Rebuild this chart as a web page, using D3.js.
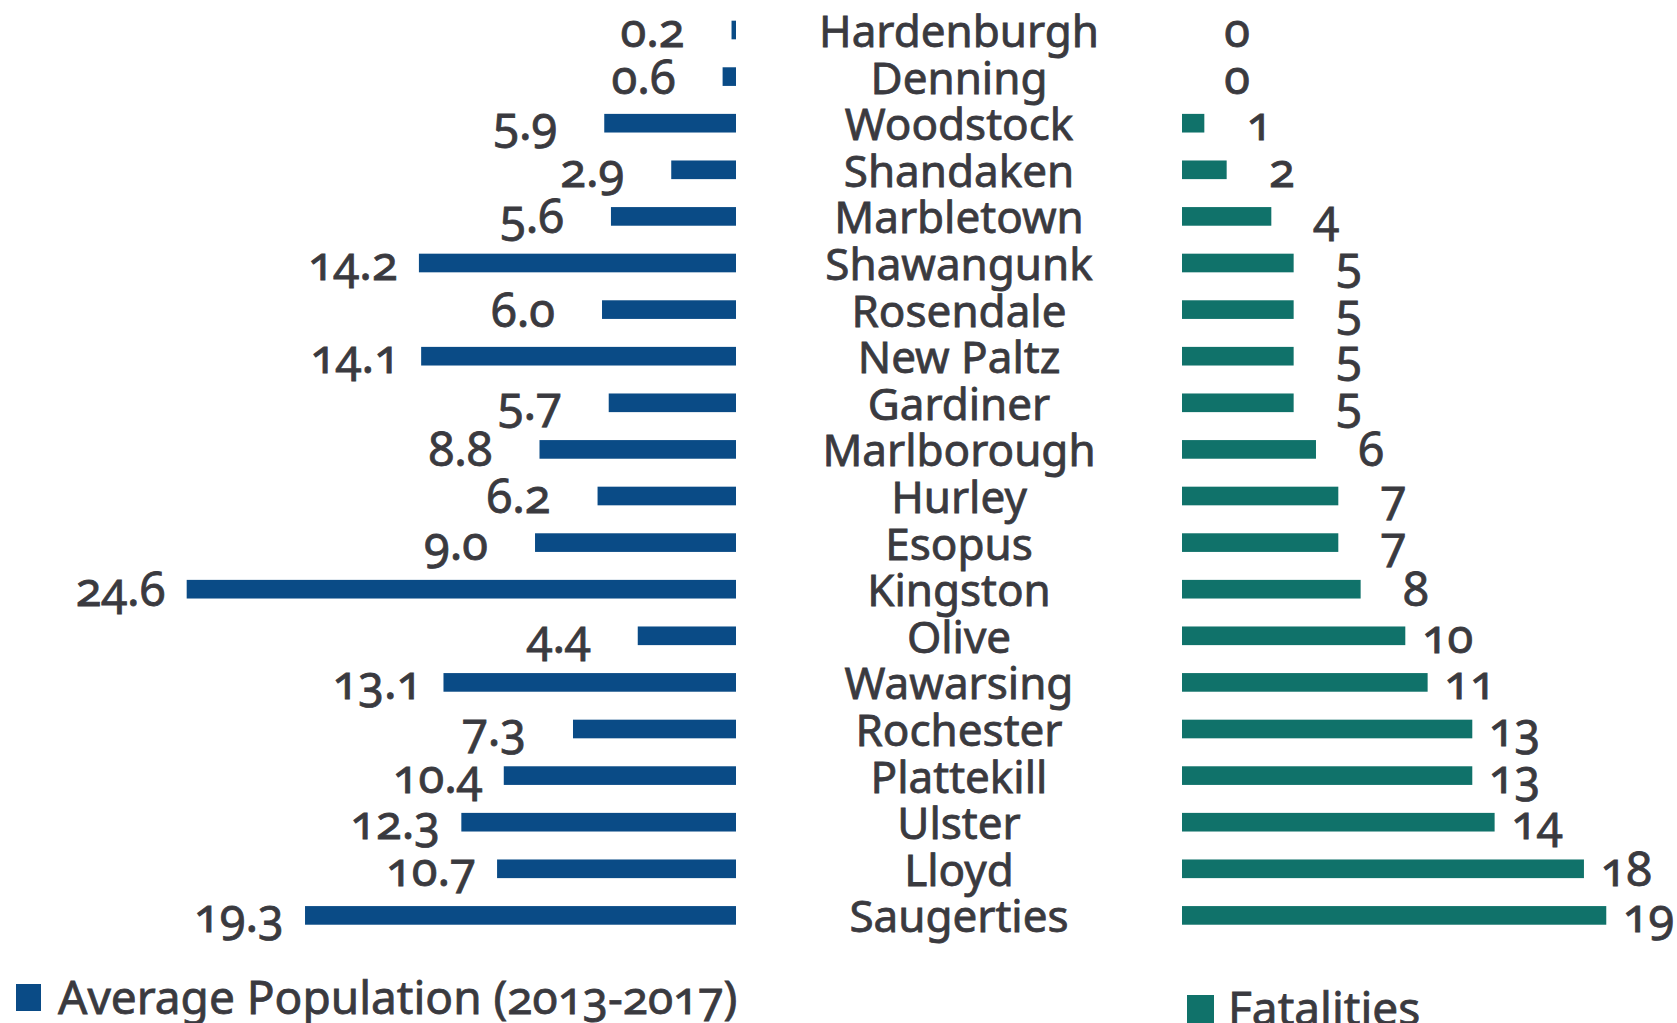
<!DOCTYPE html>
<html><head><meta charset="utf-8">
<script src="https://cdn.jsdelivr.net/npm/d3@7"></script>
<style>
html,body{margin:0;padding:0;background:#fff;}
text{font-family:"Noto Sans","Open Sans",sans-serif;fill:#3a3a3f;stroke:#3a3a3f;stroke-width:0.8px;font-variant-numeric:oldstyle-nums;font-feature-settings:"onum" 1;}
</style></head>
<body>
<svg id="chart" width="1677" height="1023"></svg>
<script>
const towns = ["Hardenburgh","Denning","Woodstock","Shandaken","Marbletown","Shawangunk","Rosendale","New Paltz","Gardiner","Marlborough","Hurley","Esopus","Kingston","Olive","Wawarsing","Rochester","Plattekill","Ulster","Lloyd","Saugerties"];
const population = [0.2,0.6,5.9,2.9,5.6,14.2,6.0,14.1,5.7,8.8,6.2,9.0,24.6,4.4,13.1,7.3,10.4,12.3,10.7,19.3];
const fatalities = [0,0,1,2,4,5,5,5,5,6,7,7,8,10,11,13,13,14,18,19];
const popLabels = ["0.2","0.6","5.9","2.9","5.6","14.2","6.0","14.1","5.7","8.8","6.2","9.0","24.6","4.4","13.1","7.3","10.4","12.3","10.7","19.3"];
const legendLabels = ["Average Population (2013-2017)","Fatalities"];

const BLUE = "#0a4b86", TEAL = "#10726a";
const svg = d3.select("#chart");
const FS = 44, NFS = 47, LFS = 46;

const y = d3.scaleBand().domain(towns).range([6.7, 6.7 + 20*46.6]).paddingInner(0.6).paddingOuter(0.3);
const xPop = d3.scaleLinear().domain([0, 25]).range([736, 736 - 25*22.33]);
const xFat = d3.scaleLinear().domain([0, 20]).range([1182, 1182 + 20*22.33]);
const cy = d => y(d) + y.bandwidth()/2;

const rows = towns.map((t,i)=>({t, p: population[i], pl: popLabels[i], f: fatalities[i]}));

svg.selectAll("rect.pop").data(rows).join("rect").attr("class","pop")
  .attr("x", d => xPop(d.p)).attr("y", d => y(d.t))
  .attr("width", d => xPop(0) - xPop(d.p)).attr("height", y.bandwidth())
  .attr("fill", BLUE);

svg.selectAll("rect.fat").data(rows).join("rect").attr("class","fat")
  .attr("x", xFat(0)).attr("y", d => y(d.t))
  .attr("width", d => xFat(d.f) - xFat(0)).attr("height", y.bandwidth())
  .attr("fill", TEAL);

svg.selectAll("text.pl").data(rows).join("text").attr("class","pl")
  .attr("x", d => xPop(d.p) - 111).attr("y", d => cy(d.t) + 17)
  .attr("text-anchor","start").attr("font-size", NFS).text(d => d.pl);

svg.selectAll("text.fl").data(rows).join("text").attr("class","fl")
  .attr("x", d => xFat(d.f) + 68).attr("y", d => cy(d.t) + 17)
  .attr("text-anchor","end").attr("font-size", NFS).text(d => d.f);

svg.selectAll("text.cat").data(rows).join("text").attr("class","cat")
  .attr("x", 959).attr("y", d => cy(d.t) + 17)
  .attr("text-anchor","middle").attr("font-size", FS).text(d => d.t);

// legend
svg.append("rect").attr("x",16).attr("y",984).attr("width",25).attr("height",27).attr("fill",BLUE);
svg.append("text").attr("x",58).attr("y",1014).attr("font-size",LFS).text(legendLabels[0]);
svg.append("rect").attr("x",1187).attr("y",995).attr("width",27).attr("height",30).attr("fill",TEAL);
svg.append("text").attr("x",1228).attr("y",1025).attr("font-size",LFS).text(legendLabels[1]);
</script>
</body></html>
